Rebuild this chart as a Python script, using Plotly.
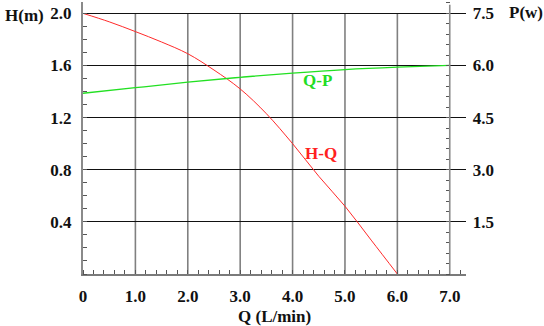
import plotly.graph_objects as go

# ---- data ----
Q_HQ = [0, 0.5, 1.0, 1.5, 2.0, 2.5, 3.0, 3.5, 4.0, 4.5, 5.0, 5.5, 6.0]
H_HQ = [2.0, 1.935, 1.86, 1.78, 1.69, 1.565, 1.42, 1.23, 1.0, 0.75, 0.52, 0.26, 0.0]

Q_QP = [0, 1.0, 2.0, 3.0, 4.0, 5.0, 6.0, 7.0]
P_QP = [5.20, 5.36, 5.52, 5.66, 5.78, 5.88, 5.95, 6.0]

X_TICKS = [0, 1, 2, 3, 4, 5, 6, 7]
X_LABELS = ["0", "1.0", "2.0", "3.0", "4.0", "5.0", "6.0", "7.0"]
H_TICKS = [0.4, 0.8, 1.2, 1.6, 2.0]
H_LABELS = ["0.4", "0.8", "1.2", "1.6", "2.0"]
P_TICKS = [1.5, 3.0, 4.5, 6.0, 7.5]
P_LABELS = ["1.5", "3.0", "4.5", "6.0", "7.5"]

X_MAX = 7.31
H_MAX = 2.087
P_SCALE = 3.75

FONT = "Liberation Serif"
tickfont = dict(family=FONT, size=17, color="#111", weight="bold")

fig = go.Figure()
fig.add_trace(go.Scatter(x=Q_HQ, y=H_HQ, mode="lines", line=dict(color="#ff2a2a", width=1, shape="spline"),
                         yaxis="y", showlegend=False, hoverinfo="skip"))
fig.add_trace(go.Scatter(x=Q_QP, y=P_QP, mode="lines", line=dict(color="#22e022", width=1.3, shape="spline"),
                         yaxis="y2", showlegend=False, hoverinfo="skip"))

shapes = []
# vertical grid lines, stopping at the top value line
for xv in X_TICKS[1:-1]:
    shapes.append(dict(type="line", xref="x", yref="y", x0=xv, x1=xv, y0=0, y1=H_TICKS[-1],
                       line=dict(color="#808080", width=1.6), layer="below"))
# right-hand P axis line at last Q tick
shapes.append(dict(type="line", xref="x", yref="paper", x0=X_TICKS[-1], x1=X_TICKS[-1], y0=0, y1=0.99,
                   line=dict(color="#8a8a8a", width=1.6)))

fig.update_layout(
    width=544, height=326,
    margin=dict(l=83, r=78, t=2, b=52),
    paper_bgcolor="white", plot_bgcolor="white",
    shapes=shapes,
    xaxis=dict(range=[0, X_MAX], tickvals=X_TICKS, ticktext=X_LABELS, showgrid=False, zeroline=False,
               showline=True, linecolor="#7a7a7a", linewidth=2, ticks="", tickfont=tickfont,
               ticklabelstandoff=6,
               minor=dict(ticks="inside", dtick=0.2, ticklen=4, tickcolor="#555", tickwidth=1, showgrid=False)),
    yaxis=dict(range=[0, H_MAX], tickvals=H_TICKS, ticktext=H_LABELS, showgrid=True, gridcolor="#111",
               gridwidth=1, zeroline=False, showline=True, linecolor="#8a8a8a", linewidth=2, ticks="",
               tickfont=tickfont, ticklabelstandoff=6,
               minor=dict(ticks="inside", dtick=0.1, ticklen=4, tickcolor="#555", tickwidth=1, showgrid=False)),
    yaxis2=dict(range=[0, H_MAX * P_SCALE], overlaying="y", side="right", anchor="free",
                position=X_TICKS[-1] / X_MAX, tickvals=P_TICKS, ticktext=P_LABELS, showgrid=False,
                zeroline=False, showline=False, ticks="", tickfont=tickfont, ticklabelstandoff=22,
                minor=dict(ticks="inside", dtick=0.3, ticklen=4, tickcolor="#555", tickwidth=1, showgrid=False)),
    annotations=[
        dict(text="<b>H(m)</b>", xref="paper", yref="paper", x=-0.21, y=0.952, xanchor="left", yanchor="middle",
             showarrow=False, font=dict(family=FONT, size=17, color="#111")),
        dict(text="<b>P(w)</b>", xref="paper", yref="paper", x=1.108, y=0.96, xanchor="left", yanchor="middle",
             showarrow=False, font=dict(family=FONT, size=17, color="#111")),
        dict(text="<b>Q (L/min)</b>", xref="paper", yref="paper", x=0.501, y=-0.158, xanchor="center",
             yanchor="middle", showarrow=False, font=dict(family=FONT, size=17, color="#111")),
        dict(text="<b>Q-P</b>", xref="x", yref="y", x=4.47, y=1.483, showarrow=False,
             font=dict(family=FONT, size=17, color="#22dd22")),
        dict(text="<b>H-Q</b>", xref="x", yref="y", x=4.54, y=0.923, showarrow=False,
             font=dict(family=FONT, size=17, color="#ff2020")),
    ],
)

fig.write_html("out.html")
